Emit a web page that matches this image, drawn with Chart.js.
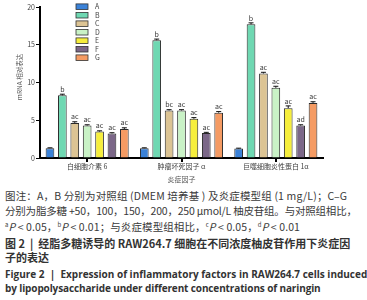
<!DOCTYPE html>
<html lang="zh">
<head>
<meta charset="UTF-8">
<title>炎症因子表达</title>
<script src="https://cdn.jsdelivr.net/npm/chart.js@4.4.1/dist/chart.umd.min.js"></script>
<style>
  html, body { margin: 0; padding: 0; background: #fff; }
  body { width: 367px; height: 300px; position: relative; overflow: hidden;
         font-family: "Noto Sans CJK SC", "Noto Sans", sans-serif; color: #3a3a3a; }
  #chart { position: absolute; left: 0; top: 0; }
  .ln { position: absolute; left: 5px; white-space: nowrap; font-size: 10.5px; line-height: 14px; }
  .b { font-weight: bold; color: #333; font-size: 11px; }
  .en { font-family: "Open Sans", "Noto Sans", sans-serif; font-size: 10px; }
  sup { font-size: 6px; vertical-align: 4px; }
  i { font-style: italic; }
</style>
</head>
<body>
<canvas id="chart" width="367" height="185"></canvas>

<div class="ln" style="top:189px; letter-spacing:0.15px">图注：A，B 分别为对照组 (DMEM 培养基 ) 及炎症模型组 (1 mg/L)；C–G</div>
<div class="ln" style="top:204px; letter-spacing:-0.2px">分别为脂多糖 +50，100，150，200，250 μmol/L 柚皮苷组。与对照组相比，</div>
<div class="ln" style="top:218px; letter-spacing:0.1px"><sup>a</sup><i>P</i> &lt; 0.05，<sup>b</sup><i>P</i> &lt; 0.01；与炎症模型组相比，<sup>c</sup><i>P</i> &lt; 0.05，<sup>d</sup><i>P</i> &lt; 0.01</div>
<div class="ln b" style="top:236px">图 2 &nbsp;|&nbsp; 经脂多糖诱导的 RAW264.7 细胞在不同浓度柚皮苷作用下炎症因</div>
<div class="ln b" style="top:250px">子的表达</div>
<div class="ln b en" style="top:267px">Figure 2 &nbsp;|&nbsp; Expression of inflammatory factors in RAW264.7 cells induced</div>
<div class="ln b en" style="top:281px; letter-spacing:-0.12px">by lipopolysaccharide under different concentrations of naringin</div>

<script>
// categories and groups
const categories = ['白细胞介素 6', '肿瘤坏死因子 α', '巨噬细胞炎性蛋白 1α'];
const groups     = ['A', 'B', 'C', 'D', 'E', 'F', 'G'];
const colors     = ['#3b82d8', '#6fd8b2', '#dcc494', '#c9f2c6', '#f6ee3c', '#7b6788', '#f59b63'];

// mRNA relative expression
const valuesA = [1.3, 1.3, 1.25];
const valuesB = [8.3, 15.6, 17.7];
const valuesC = [4.65, 6.3, 11.2];
const valuesD = [4.3, 6.3, 9.3];
const valuesE = [3.5, 5.2, 6.6];
const valuesF = [3.25, 3.3, 4.3];
const valuesG = [3.85, 6.0, 7.3];

// error bars (SD, approx.)
const errA = [0.05, 0.05, 0.05];
const errB = [0.15, 0.15, 0.2];
const errC = [0.15, 0.1, 0.15];
const errD = [0.1, 0.1, 0.2];
const errE = [0.1, 0.15, 0.3];
const errF = [0.1, 0.1, 0.1];
const errG = [0.15, 0.15, 0.15];

// significance letters
const sigA = ['', '', ''];
const sigB = ['b', 'b', 'b'];
const sigC = ['ac', 'bc', 'ac'];
const sigD = ['ac', 'ac', 'ac'];
const sigE = ['ac', 'ac', 'ac'];
const sigF = ['ac', 'ac', 'ad'];
const sigG = ['ac', 'ac', 'ac'];

const yTicks = [0, 5, 10, 15, 20];

const allValues = [valuesA, valuesB, valuesC, valuesD, valuesE, valuesF, valuesG];
const allErr    = [errA, errB, errC, errD, errE, errF, errG];
const allSig    = [sigA, sigB, sigC, sigD, sigE, sigF, sigG];

const FONT = '"Noto Sans CJK SC", "Noto Sans", sans-serif';

// error bars, letters, legend and axis titles
const extras = {
  id: 'extras',
  afterDatasetsDraw(chart) {
    const { ctx, scales: { y } } = chart;
    ctx.save();
    chart.data.datasets.forEach((ds, di) => {
      chart.getDatasetMeta(di).data.forEach((bar, i) => {
        const v   = ds.data[i];
        const top = y.getPixelForValue(v + allErr[di][i]);
        ctx.strokeStyle = '#111';
        ctx.lineWidth = 1;
        ctx.beginPath();
        ctx.moveTo(bar.x, bar.y); ctx.lineTo(bar.x, top);
        ctx.moveTo(bar.x - 2.5, top); ctx.lineTo(bar.x + 2.5, top);
        ctx.stroke();
        const s = allSig[di][i];
        if (s) {
          ctx.fillStyle = '#333';
          ctx.font = '7px ' + FONT;
          ctx.textAlign = 'center';
          ctx.textBaseline = 'bottom';
          ctx.fillText(s, bar.x, top - 1.5);
        }
      });
    });
    ctx.restore();
  },
  afterDraw(chart) {
    const { ctx, chartArea } = chart;
    ctx.save();
    // legend
    groups.forEach((g, i) => {
      const cy = 6.7 + i * 8.5;
      ctx.fillStyle = colors[i];
      ctx.fillRect(76, cy - 2.8, 12, 5.6);
      ctx.strokeStyle = '#333';
      ctx.lineWidth = 0.8;
      ctx.strokeRect(76, cy - 2.8, 12, 5.6);
      ctx.fillStyle = '#444';
      ctx.font = '7px ' + FONT;
      ctx.textAlign = 'left';
      ctx.textBaseline = 'middle';
      ctx.fillText(g, 95, cy);
    });
    ctx.restore();

    // y title
    ctx.save();
    ctx.setTransform(1, 0, 0, 1, 20, 77);
    ctx.rotate(-Math.PI / 2);
    ctx.fillStyle = '#555';
    ctx.font = '6.5px ' + FONT;
    ctx.textAlign = 'center';
    ctx.textBaseline = 'middle';
    ctx.fillText('mRNA 相对表达', 0, 0);
    ctx.restore();

    // x title
    ctx.save();
    ctx.fillStyle = '#555';
    ctx.font = '7px ' + FONT;
    ctx.textAlign = 'center';
    ctx.textBaseline = 'middle';
    ctx.fillText('炎症因子', (chartArea.left + chartArea.right) / 2, 179.5);
    ctx.restore();
  }
};

new Chart(document.getElementById('chart'), {
  type: 'bar',
  data: {
    labels: categories,
    datasets: groups.map((g, i) => ({
      label: g,
      data: allValues[i],
      backgroundColor: colors[i],
      borderColor: '#2a2a2a',
      borderWidth: 1,
      categoryPercentage: 0.92,
      barPercentage: 0.7
    }))
  },
  options: {
    responsive: false,
    animation: false,
    layout: { padding: { top: 7, left: 0, right: 44, bottom: 0 } },
    plugins: { legend: { display: false }, tooltip: { enabled: false } },
    scales: {
      x: {
        grid: { drawOnChartArea: false, offset: false, color: '#000', lineWidth: 2, tickLength: 4 },
        border: { color: '#000', width: 2 },
        ticks: { color: '#444', font: { size: 7, family: FONT }, padding: 0, maxRotation: 0 },
        afterFit: s => { s.height = 27; }
      },
      y: {
        min: 0, max: 20,
        grid: { drawOnChartArea: false, color: '#000', lineWidth: 1, tickLength: 4 },
        border: { color: '#000', width: 2 },
        ticks: { stepSize: 5, color: '#444', font: { size: 7, family: FONT }, padding: 1,
                 callback: v => yTicks.includes(v) ? v : '' },
        afterFit: s => { s.width = 40; }
      }
    }
  },
  plugins: [extras]
});
</script>
</body>
</html>
